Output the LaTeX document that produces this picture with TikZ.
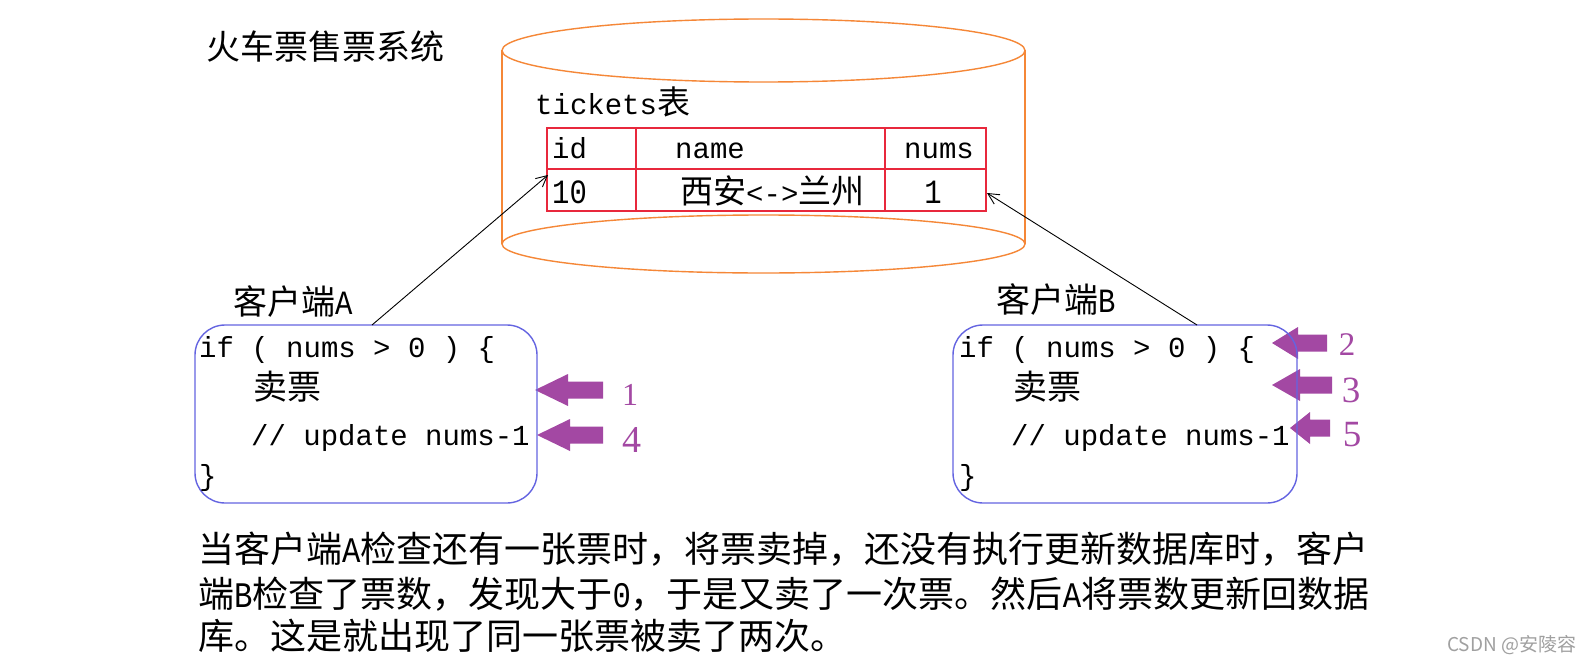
\documentclass[tikz,border=0pt]{standalone}
\usepackage{fontspec}
\setmainfont{Noto Sans CJK SC}
\newfontfamily\cjk{Noto Sans CJK SC}
\newfontfamily\mono{Liberation Mono}
\newfontfamily\latn[FakeStretch=0.85]{Liberation Mono}
\newfontfamily\serif{Liberation Serif}
\usetikzlibrary{arrows.meta}
\newcommand\myfs[1]{\fontsize{#1}{#1}\selectfont}
\definecolor{orng}{RGB}{245,135,55}
\definecolor{tred}{RGB}{232,40,60}
\definecolor{bblue}{RGB}{100,100,225}
\definecolor{purp}{RGB}{163,72,163}
\definecolor{wm}{RGB}{160,160,160}
\newcommand\blockarrow[4]{%
  \fill[purp] (#1,#2) -- (#3,#2-16) -- (#3,#2-8.5) -- (#4,#2-8.5) -- (#4,#2+8.5) -- (#3,#2+8.5) -- (#3,#2+16) -- cycle;}
\tikzset{
  txt/.style={inner sep=0pt, anchor=base west, text=black},
  cyl/.style={draw=orng, line width=1.4pt},
  tbl/.style={draw=tred, line width=1.4pt},
  client/.style={draw=bblue, line width=1.4pt, rounded corners=30pt, inner sep=0pt},
  link/.style={draw=black, line width=0.9pt, -{Straight Barb[length=11pt,width=11pt]}},
  num/.style={inner sep=0pt, anchor=base, text=purp, font=\serif},
}
\begin{document}
\begin{tikzpicture}[x=1pt,y=-1pt]
\useasboundingbox (0,0) rectangle (1594,666);
\fill[white] (0,0) rectangle (1594,666);

% title
\node[txt] (title) at (206,60) {\cjk\myfs{34}火车票售票系统};

% cylinder
\draw[cyl] (763.5,50.5) ellipse [x radius=261.5pt, y radius=31.5pt];
\draw[cyl] (763.5,244) ellipse [x radius=261.5pt, y radius=29pt];
\draw[cyl] (502,50.5) -- (502,244);
\draw[cyl] (1025,50.5) -- (1025,244);

% table
\node[txt] (tname) at (535,114) {{\mono\myfs{29}tickets}{\cjk\myfs{33}表}};
\draw[tbl] (547,128) rectangle (986,211);
\draw[tbl] (547,169) -- (986,169);
\draw[tbl] (636,128) -- (636,211);
\draw[tbl] (885,128) -- (885,211);
\node[txt] (hid) at (552,158) {\mono\myfs{29}id};
\node[txt] (hname) at (675,158) {\mono\myfs{29}name};
\node[txt] (hnums) at (904,158) {\mono\myfs{29}nums};
\node[txt] (vid) at (552,203) {\latn\myfs{34}10};
\node[txt] (vname) at (680,203) {{\cjk\myfs{33}西安}{\mono\myfs{29}<->}{\cjk\myfs{33}兰州}};
\node[inner sep=0pt, anchor=base] (vnums) at (933,203) {\latn\myfs{34}1};
\coordinate (rowL) at (548,175);
\coordinate (rowR) at (987,193);

% client labels
\node[txt] (labA) at (233,314) {{\cjk\myfs{34}客户端}{\latn\myfs{34}A}};
\node[txt] (labB) at (996,312) {{\cjk\myfs{34}客户端}{\latn\myfs{34}B}};

% purple arrows
\blockarrow{535}{390}{568}{603}
\blockarrow{537}{435}{570}{603}
\blockarrow{1272}{343}{1298}{1327}
\blockarrow{1272}{385}{1300}{1332}
\blockarrow{1290}{428}{1310}{1330}
\node[num] (n1) at (630,405) {\myfs{32}1};
\node[num] (n4) at (632,452) {\myfs{38}4};
\node[num] (n2) at (1347,355) {\myfs{33}2};
\node[num] (n3) at (1351,402) {\myfs{37}3};
\node[num] (n5) at (1352,446) {\myfs{37}5};

% client boxes
\node[client, minimum width=342pt, minimum height=178pt] (boxA) at (366,414) {};
\node[client, minimum width=344pt, minimum height=178pt] (boxB) at (1125,414) {};

% code A
\node[txt] (a1) at (199,357) {\mono\myfs{29}if ( nums > 0 ) \{};
\node[txt] (a2) at (253,399) {\cjk\myfs{34}卖票};
\node[txt] (a3) at (251,445) {\mono\myfs{29}// update nums-1};
\node[txt] (a4) at (199,485) {\mono\myfs{29}\}};
% code B
\node[txt] (b1) at (959,357) {\mono\myfs{29}if ( nums > 0 ) \{};
\node[txt] (b2) at (1013,399) {\cjk\myfs{34}卖票};
\node[txt] (b3) at (1011,445) {\mono\myfs{29}// update nums-1};
\node[txt] (b4) at (959,485) {\mono\myfs{29}\}};

% connectors
\coordinate (startA) at (372,325);
\coordinate (startB) at (1197,325);
\draw[link] (startA) -- (rowL);
\draw[link] (startB) -- (rowR);

% explanation
\node[txt] (e1) at (198,562) {\cjk\myfs{36}当客户端{\latn\myfs{36}A}检查还有一张票时，将票卖掉，还没有执行更新数据库时，客户};
\node[txt] (e2) at (198,607) {\cjk\myfs{36}端{\latn\myfs{36}B}检查了票数，发现大于{\latn\myfs{36}0}，于是又卖了一次票。然后{\latn\myfs{36}A}将票数更新回数据};
\node[txt] (e3) at (198,649) {\cjk\myfs{36}库。这是就出现了同一张票被卖了两次。};

% watermark
\node[txt, text=wm] (wmark) at (1447,651) {\cjk\myfs{19}CSDN @安陵容};
\end{tikzpicture}
\end{document}
